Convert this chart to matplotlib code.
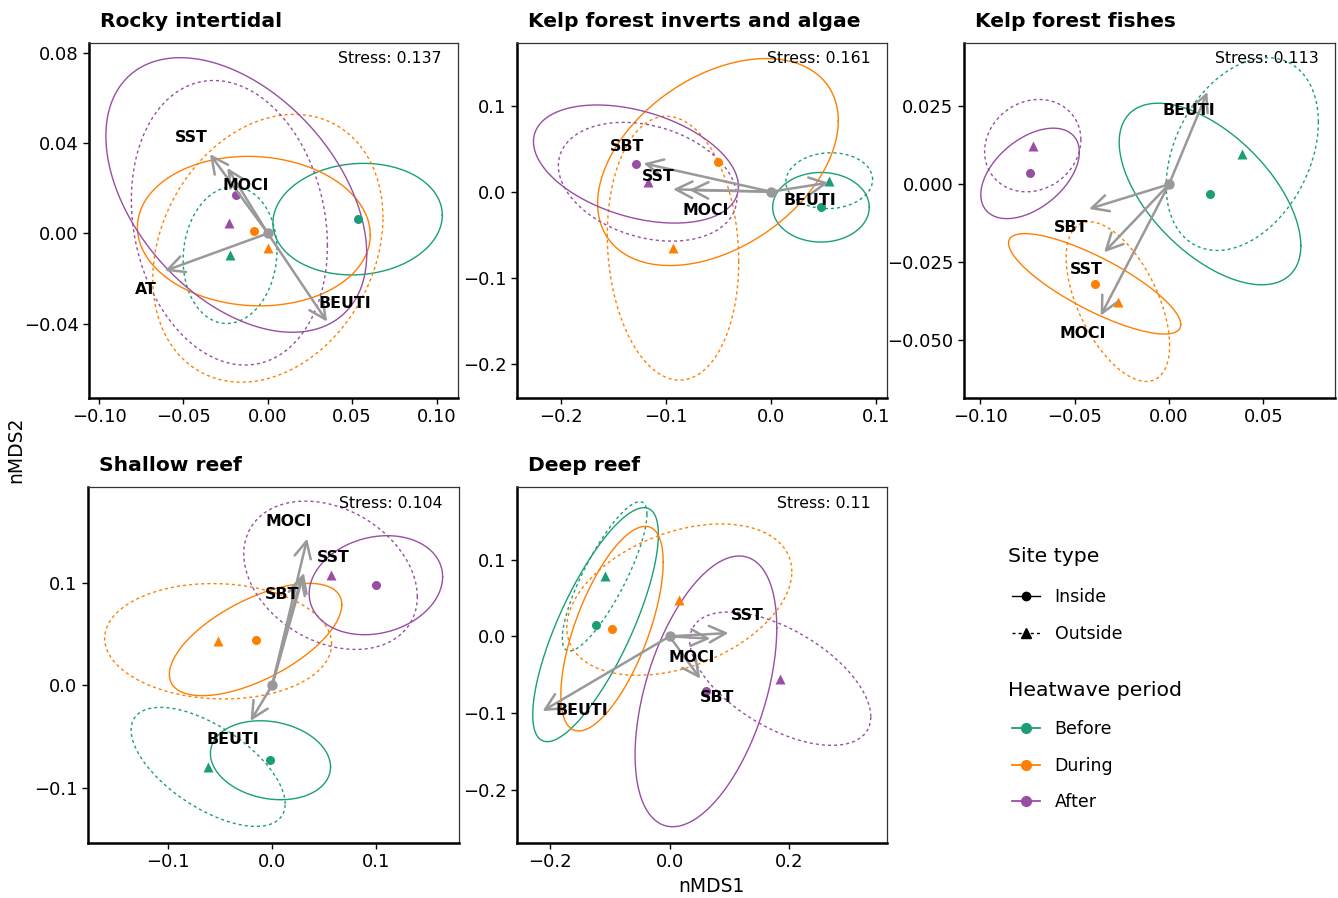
import matplotlib.pyplot as plt
import numpy as np
from matplotlib.lines import Line2D

# groups: Before-Inside, Before-Outside, During-Inside, During-Outside, After-Inside, After-Outside
periods = ['Before', 'Before', 'During', 'During', 'After', 'After']
sites = ['Inside', 'Outside', 'Inside', 'Outside', 'Inside', 'Outside']
period_colors = {'Before': '#1B9E77', 'During': '#FF7F00', 'After': '#984EA3'}

titles = ['Rocky intertidal', 'Kelp forest inverts and algae', 'Kelp forest fishes',
          'Shallow reef', 'Deep reef']
stress = ['0.137', '0.161', '0.113', '0.104', '0.11']

# centroids (nMDS1, nMDS2)
cent_x = [
    [0.0532, -0.0224, -0.0083, 0.0000, -0.0187, -0.0228],
    [0.0476, 0.0555, -0.0505, -0.0933, -0.1286, -0.1175],
    [0.0217, 0.0388, -0.0394, -0.0271, -0.0736, -0.0722],
    [-0.0016, -0.0614, -0.0159, -0.0518, 0.0995, 0.0560],
    [-0.1242, -0.1090, -0.0966, 0.0163, 0.0610, 0.1857],
]
cent_y = [
    [0.0063, -0.0096, 0.0010, -0.0066, 0.0170, 0.0047],
    [-0.0181, 0.0128, 0.0345, -0.0657, 0.0322, 0.0116],
    [-0.0031, 0.0097, -0.0319, -0.0376, 0.0035, 0.0124],
    [-0.0733, -0.0798, 0.0447, 0.0430, 0.0978, 0.1075],
    [0.0152, 0.0781, 0.0100, 0.0478, -0.0716, -0.0551],
]
# ellipse half extents and correlation
ell_sx = [
    [0.0502, 0.0278, 0.0690, 0.0682, 0.0773, 0.0581],
    [0.0460, 0.0413, 0.1146, 0.0626, 0.0976, 0.0850],
    [0.0481, 0.0403, 0.0456, 0.0274, 0.0261, 0.0255],
    [0.0576, 0.0739, 0.0827, 0.1088, 0.0640, 0.0832],
    [0.1054, 0.0710, 0.0859, 0.1888, 0.1189, 0.1519],
]
ell_sy = [
    [0.0247, 0.0303, 0.0331, 0.0593, 0.0608, 0.0630],
    [0.0405, 0.0325, 0.1204, 0.1535, 0.0687, 0.0691],
    [0.0291, 0.0309, 0.0161, 0.0256, 0.0145, 0.0148],
    [0.0386, 0.0582, 0.0549, 0.0564, 0.0484, 0.0725],
    [0.1523, 0.0972, 0.1332, 0.0985, 0.1762, 0.0868],
]
ell_r = [
    [0.07, 0.07, -0.05, 0.23, -0.43, -0.16],
    [0.00, 0.04, 0.40, -0.10, -0.38, -0.27],
    [-0.57, 0.33, -0.81, -0.55, 0.47, 0.13],
    [-0.17, -0.62, 0.62, -0.05, 0.17, -0.29],
    [0.77, 0.83, 0.65, 0.37, 0.47, -0.57],
]

# environmental vectors
vec_names = [
    ['SST', 'MOCI', 'AT', 'BEUTI'],
    ['SBT', 'SST', 'MOCI', 'BEUTI'],
    ['BEUTI', 'SBT', 'SST', 'MOCI'],
    ['MOCI', 'SST', 'SBT', 'BEUTI'],
    ['BEUTI', 'SST', 'MOCI', 'SBT'],
]
vec_x = [
    [-0.0343, -0.0240, -0.0610, 0.0351],
    [-0.1213, -0.0933, -0.0780, 0.0549],
    [0.0203, -0.0424, -0.0344, -0.0362],
    [0.0336, 0.0304, 0.0285, -0.0207],
    [-0.2131, 0.0990, 0.0683, 0.0515],
]
vec_y = [
    [0.0351, 0.0290, -0.0166, -0.0391],
    [0.0330, 0.0028, 0.0020, 0.0105],
    [0.0296, -0.0079, -0.0218, -0.0421],
    [0.1434, 0.1098, 0.1075, -0.0349],
    [-0.0973, 0.0043, -0.0030, -0.0551],
]
lab_x = [
    [-0.0453, -0.0132, -0.0723, 0.0459],
    [-0.1370, -0.1070, -0.0626, 0.0368],
    [0.0106, -0.0519, -0.0440, -0.0457],
    [0.0163, 0.0585, 0.0096, -0.0380],
    [-0.1470, 0.1298, 0.0364, 0.0805],
]
lab_y = [
    [0.0423, 0.0210, -0.0248, -0.0310],
    [0.0523, 0.0182, -0.0213, -0.0108],
    [0.0238, -0.0139, -0.0274, -0.0479],
    [0.1596, 0.1248, 0.0890, -0.0528],
    [-0.0970, 0.0273, -0.0270, -0.0790],
]

xticks = [
    [-0.10, -0.05, 0.00, 0.05, 0.10],
    [-0.2, -0.1, 0.0, 0.1],
    [-0.10, -0.05, 0.00, 0.05],
    [-0.1, 0.0, 0.1],
    [-0.2, 0.0, 0.2],
]
xticklabels = [
    ['\u22120.10', '\u22120.05', '0.00', '0.05', '0.10'],
    ['\u22120.2', '\u22120.1', '0.0', '0.1'],
    ['\u22120.10', '\u22120.05', '0.00', '0.05'],
    ['\u22120.1', '0.0', '0.1'],
    ['\u22120.2', '0.0', '0.2'],
]
yticks = [
    [-0.04, 0.00, 0.04, 0.08],
    [-0.2, -0.1, 0.0, 0.1],
    [-0.050, -0.025, 0.000, 0.025],
    [-0.1, 0.0, 0.1],
    [-0.2, -0.1, 0.0, 0.1],
]
yticklabels = [
    ['\u22120.04', '0.00', '0.04', '0.08'],
    ['\u22120.2', '\u22120.1', '0.0', '0.1'],
    ['\u22120.050', '\u22120.025', '0.000', '0.025'],
    ['\u22120.1', '0.0', '0.1'],
    ['\u22120.2', '\u22120.1', '0.0', '0.1'],
]
xlims = [(-0.106, 0.1127), (-0.2419, 0.1105), (-0.1086, 0.0879), (-0.1766, 0.1792), (-0.256, 0.3648)]
ylims = [(-0.0729, 0.0843), (-0.240, 0.173), (-0.0685, 0.0453), (-0.1542, 0.1938), (-0.269, 0.1944)]

# axes rectangles in pixels (left, top, right, bottom)
W, H = 1338, 898
boxes = [(89, 43, 458, 398), (517, 43, 887, 398), (964, 43, 1335, 398),
         (88, 487, 459, 843), (517, 487, 887, 843)]

plt.rcParams['font.family'] = ['DejaVu Sans']
fig = plt.figure(figsize=(W / 100, H / 100), dpi=100)
arrow_col = '#999999'
t = np.linspace(0, 2 * np.pi, 300)

for i in range(5):
    l, tp, r_, b = boxes[i]
    ax = fig.add_axes([l / W, 1 - b / H, (r_ - l) / W, (b - tp) / H])
    # ellipses
    for g in range(6):
        col = period_colors[periods[g]]
        ls = '-' if sites[g] == 'Inside' else (0, (2.2, 2.2))
        rr = ell_r[i][g]
        ex = cent_x[i][g] + ell_sx[i][g] * np.cos(t)
        ey = cent_y[i][g] + ell_sy[i][g] * (rr * np.cos(t) + np.sqrt(1 - rr ** 2) * np.sin(t))
        ax.plot(ex, ey, color=col, lw=1.0, ls=ls, zorder=2)
    # centroids
    for g in range(6):
        col = period_colors[periods[g]]
        mk = 'o' if sites[g] == 'Inside' else '^'
        ax.plot(cent_x[i][g], cent_y[i][g], marker=mk, ms=6.5 if mk == 'o' else 7.5,
                color=col, mec='none', ls='none', zorder=3)
    # vectors
    for k in range(len(vec_names[i])):
        ax.annotate('', xy=(vec_x[i][k], vec_y[i][k]), xytext=(0, 0),
                    arrowprops=dict(arrowstyle='->,head_length=0.7,head_width=0.35',
                                    color=arrow_col, lw=1.8, shrinkA=0, shrinkB=0,
                                    mutation_scale=17),
                    zorder=4)
    ax.plot(0, 0, 'o', color=arrow_col, ms=7.5, mec='none', zorder=5)
    for k in range(len(vec_names[i])):
        ax.text(lab_x[i][k], lab_y[i][k], vec_names[i][k], fontsize=11.3, fontweight='bold',
                ha='center', va='center', zorder=6)
    ax.text(0.955, 0.955, 'Stress: ' + stress[i], transform=ax.transAxes, ha='right',
            va='center', fontsize=11.3, zorder=6)
    ax.text(0.03, 1.06, titles[i], transform=ax.transAxes, ha='left', va='center',
            fontsize=14.6, fontweight='bold')
    ax.set_xlim(xlims[i])
    ax.set_ylim(ylims[i])
    ax.set_xticks(xticks[i])
    ax.set_xticklabels(xticklabels[i])
    ax.set_yticks(yticks[i])
    ax.set_yticklabels(yticklabels[i])
    ax.tick_params(labelsize=13, length=4, width=1, colors='black', direction='out')
    for s in ['left', 'bottom']:
        ax.spines[s].set_linewidth(1.8)
        ax.spines[s].set_color('black')
    for s in ['top', 'right']:
        ax.spines[s].set_linewidth(0.9)
        ax.spines[s].set_color('#333333')

fig.text(711 / W, 1 - 887 / H, 'nMDS1', ha='center', va='center', fontsize=13.5)
fig.text(16 / W, 1 - 450 / H, 'nMDS2', ha='center', va='center', fontsize=13.5, rotation=90)

# legends
fig.text(1008 / W, 1 - 557 / H, 'Site type', ha='left', va='center', fontsize=14.7)
fig.text(1008 / W, 1 - 690 / H, 'Heatwave period', ha='left', va='center', fontsize=14.7)
site_handles = [
    Line2D([], [], color='black', lw=1.0, ls='-', marker='o', ms=6),
    Line2D([], [], color='black', lw=1.0, ls=(0, (2.2, 2.2)), marker='^', ms=7),
]
period_handles = [Line2D([], [], color=period_colors[p], lw=1.3, marker='o', ms=7)
                  for p in ['Before', 'During', 'After']]
fig.legend(site_handles, ['Inside', 'Outside'],
           loc='upper left', bbox_to_anchor=(1005 / W, 1 - 581 / H), frameon=False,
           fontsize=12.5, handlelength=1.6, handletextpad=0.86,
           labelspacing=1.08, borderaxespad=0)
fig.legend(period_handles, ['Before', 'During', 'After'],
           loc='upper left', bbox_to_anchor=(1005 / W, 1 - 713 / H), frameon=False,
           fontsize=12.5, handlelength=1.6, handletextpad=0.86,
           labelspacing=1.08, borderaxespad=0)

fig.savefig('out.png', dpi=100)
